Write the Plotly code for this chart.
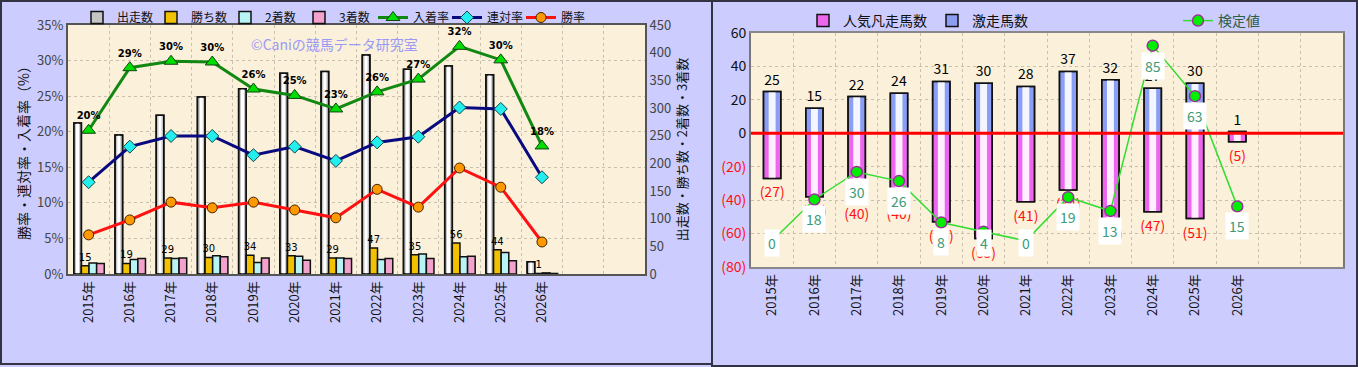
import plotly.graph_objects as go

W, H = 1358, 367
FONT = "Noto Sans CJK JP"

# ---------------- data (left chart) ----------------
years = ["2015年", "2016年", "2017年", "2018年", "2019年", "2020年",
         "2021年", "2022年", "2023年", "2024年", "2025年", "2026年"]
starts = [273, 251, 287, 320, 335, 363, 366, 396, 370, 376, 360, 22]
wins = [15, 19, 29, 30, 34, 33, 29, 47, 35, 56, 44, 1]
seconds = [20, 26, 28, 33, 21, 32, 29, 26, 36, 31, 39, 2]
thirds = [19, 28, 29, 31, 29, 25, 28, 28, 28, 32, 24, 1]
place_rate = [20.2, 29.0, 29.9, 29.8, 26.0, 25.1, 23.2, 25.6, 27.4, 32.0, 30.1, 18.0]
quinella_rate = [12.9, 17.9, 19.4, 19.4, 16.7, 17.9, 15.9, 18.5, 19.3, 23.4, 23.2, 13.6]
win_rate = [5.5, 7.6, 10.1, 9.3, 10.1, 9.0, 7.9, 11.9, 9.4, 14.9, 12.2, 4.5]

# ---------------- data (right chart) ----------------
gekiso = [25, 15, 22, 24, 31, 30, 28, 37, 32, 27, 30, 1]
ninki_bonsou = [27, 38, 40, 40, 53, 63, 41, 34, 52, 47, 51, 5]
kentei = [0, 18, 30, 26, 8, 4, 0, 19, 13, 85, 63, 15]

xs = list(range(len(years)))
ninki_neg = [-v for v in ninki_bonsou]
ninki_text = [f"({v})" for v in ninki_bonsou]

# secondary (hidden) axis range for 検定値
K_RANGE = [-11.4, 90.5]
R_TOP, R_BOT = 33.0, 267.0  # right plot area pixel rows


def px(x):
    return x / W


def py(y):
    return 1 - y / H


fig = go.Figure()


def gradient_bar(x, y, width, offset, base, light, name, xaxis, yaxis,
                 legend="legend", showlegend=True, text=None, textfont=None,
                 lw=1.5):
    fig.add_trace(go.Bar(x=x, y=y, width=width, offset=offset, name=name,
                         marker=dict(color=base, line=dict(width=lw, color="#111")),
                         xaxis=xaxis, yaxis=yaxis, legend=legend,
                         showlegend=showlegend, hoverinfo="skip"))
    fig.add_trace(go.Bar(x=x, y=y, width=width * 0.4, offset=offset + width * 0.3,
                         marker=dict(color=light, line=dict(width=0)),
                         xaxis=xaxis, yaxis=yaxis, showlegend=False,
                         hoverinfo="skip"))
    fig.add_trace(go.Bar(x=x, y=y, width=width, offset=offset,
                         marker=dict(color="rgba(0,0,0,0)",
                                     line=dict(width=lw, color="#111")),
                         text=text, textposition="outside" if text else "none",
                         textfont=textfont, constraintext="none", cliponaxis=False,
                         xaxis=xaxis, yaxis=yaxis, showlegend=False,
                         hoverinfo="skip"))


# ---------- left chart bars ----------
bw = 0.185
gradient_bar(xs, starts, bw, -0.36, "#C4C4C4", "#FFFFFF", "出走数", "x", "y")
fig.add_trace(go.Bar(x=xs, y=wins, width=bw, offset=-0.175, name="勝ち数",
                     marker=dict(color="#F2C200", line=dict(width=1.5, color="#111")),
                     text=wins, textposition="outside", constraintext="none",
                     cliponaxis=False,
                     textfont=dict(size=10, color="#000", family="DejaVu Sans"),
                     xaxis="x", yaxis="y", hoverinfo="skip"))
fig.add_trace(go.Bar(x=xs, y=seconds, width=bw, offset=0.01, name="2着数",
                     marker=dict(color="#B8F4F4", line=dict(width=1.5, color="#111")),
                     xaxis="x", yaxis="y", hoverinfo="skip"))
fig.add_trace(go.Bar(x=xs, y=thirds, width=bw, offset=0.195, name="3着数",
                     marker=dict(color="#F2A2CC", line=dict(width=1.5, color="#111")),
                     xaxis="x", yaxis="y", hoverinfo="skip"))

# ---------- left chart lines ----------
fig.add_trace(go.Scatter(x=xs, y=place_rate, name="入着率", mode="lines+markers+text",
                         line=dict(color="#118811", width=3),
                         marker=dict(symbol="triangle-up", size=12, color="#00DD00",
                                     line=dict(color="#114411", width=1)),
                         texttemplate="<b>%{y:.0f}%</b>", textposition="top center",
                         textfont=dict(size=10, color="#000", family="DejaVu Sans"),
                         cliponaxis=False, xaxis="x", yaxis="y2", hoverinfo="skip"))
fig.add_trace(go.Scatter(x=xs, y=quinella_rate, name="連対率", mode="lines+markers",
                         line=dict(color="#0A0A80", width=3),
                         marker=dict(symbol="diamond", size=10, color="#22EEEE",
                                     line=dict(color="#114444", width=1)),
                         xaxis="x", yaxis="y2", hoverinfo="skip"))
fig.add_trace(go.Scatter(x=xs, y=win_rate, name="勝率", mode="lines+markers",
                         line=dict(color="#FF1111", width=3),
                         marker=dict(symbol="circle", size=10, color="#FF9900",
                                     line=dict(color="#442200", width=1)),
                         xaxis="x", yaxis="y2", hoverinfo="skip"))

# ---------- right chart bars ----------
rb = 0.41
gradient_bar(xs, ninki_neg, rb, -rb / 2, "#EE66EE", "#FFEEFF", "人気凡走馬数",
             "x2", "y3", legend="legend2", text=ninki_text,
             textfont=dict(size=14, color="#FF1111", family=FONT))
gradient_bar(xs, gekiso, rb, -rb / 2, "#8C9EF4", "#F4F6FF", "激走馬数",
             "x2", "y3", legend="legend2", text=gekiso,
             textfont=dict(size=14, color="#000", family=FONT))

fig.add_trace(go.Scatter(x=xs, y=kentei, name="検定値", mode="lines+markers",
                         line=dict(color="#33DD33", width=1.5),
                         marker=dict(size=11, color="#00EE00",
                                     line=dict(color="#993399", width=1.5)),
                         xaxis="x2", yaxis="y4", legend="legend3",
                         cliponaxis=False, hoverinfo="skip"))

annotations = []
kpx = (R_BOT - R_TOP) / (K_RANGE[1] - K_RANGE[0])
for i, v in enumerate(kentei):
    marker_row = R_TOP + (K_RANGE[1] - v) * kpx
    label_row = min(marker_row + 20, 243)
    annotations.append(dict(x=xs[i], y=v, xref="x2", yref="y4", text=str(v),
                            showarrow=False, yshift=-(label_row - marker_row),
                            bgcolor="white", borderpad=3,
                            font=dict(size=14, color="#3A9A78", family=FONT)))
annotations.append(dict(x=px(334), y=py(44), xref="paper", yref="paper",
                        xanchor="center", yanchor="middle",
                        text="©Caniの競馬データ研究室", showarrow=False,
                        font=dict(size=14, color="#9A9AF4", family=FONT)))

grid = "#C9C1B0"
common_x = dict(range=[-0.5, 13.5], tickvals=xs, ticktext=years, tickangle=-90,
                showgrid=False, ticks="", zeroline=False, automargin=False,
                minor=dict(tick0=0.5, dtick=1, showgrid=True, gridcolor=grid,
                           griddash="dot", gridwidth=1),
                showline=True, mirror=True, linewidth=2,
                tickfont=dict(size=13, color="#111", family=FONT))

legend_common = dict(orientation="h", xanchor="left", yanchor="top",
                     bgcolor="rgba(0,0,0,0)", itemwidth=30, traceorder="normal")

fig.update_layout(
    width=W, height=H, autosize=False,
    margin=dict(l=0, r=0, t=0, b=0, pad=0, autoexpand=False),
    paper_bgcolor="#CCCCFF", plot_bgcolor="#FBF0DA",
    font=dict(family=FONT, color="#111"),
    barmode="group",
    xaxis=dict(domain=[px(68), px(645)], anchor="y", linecolor="#555", **common_x),
    yaxis=dict(domain=[py(274), py(25)], anchor="x", side="right", range=[0, 450],
               dtick=50, showgrid=False, zeroline=False, showline=True,
               linecolor="#555", linewidth=2, ticks="", automargin=False,
               tickfont=dict(size=13, color="#444"),
               title=dict(text="出走数・勝ち数・2着数・3着数", standoff=8,
                          font=dict(size=13, color="#111"))),
    yaxis2=dict(overlaying="y", side="left", range=[0, 35], dtick=5,
                ticksuffix="%", showgrid=True, gridcolor=grid, griddash="dot",
                zeroline=False, showline=True, linecolor="#555", linewidth=2,
                ticks="", automargin=False, tickfont=dict(size=13, color="#444"),
                title=dict(text="勝率・連対率・入着率（%）", standoff=4,
                           font=dict(size=14, color="#111"))),
    xaxis2=dict(domain=[px(751), px(1343)], anchor="y3", linecolor="#888", **common_x),
    yaxis3=dict(domain=[py(R_BOT), py(R_TOP)], anchor="x2", range=[-80, 60],
                tickvals=[-80, -60, -40, -20, 0, 20, 40, 60],
                ticktext=["<span style='color:#FF1111'>(80)</span>",
                          "<span style='color:#FF1111'>(60)</span>",
                          "<span style='color:#FF1111'>(40)</span>",
                          "<span style='color:#FF1111'>(20)</span>",
                          "0", "20", "40", "60"],
                showgrid=True, gridcolor=grid, griddash="dot", zeroline=False,
                showline=True, mirror=True, linecolor="#777", linewidth=2,
                ticks="", automargin=False, tickfont=dict(size=14, color="#111")),
    yaxis4=dict(overlaying="y3", range=K_RANGE, visible=False, automargin=False),
    legend=dict(x=px(77), y=py(3), font=dict(size=12, color="#111"),
                entrywidth=29, entrywidthmode="pixels", **legend_common),
    legend2=dict(x=px(803), y=py(5), font=dict(size=14, color="#111"),
                 **legend_common),
    legend3=dict(x=px(1178), y=py(5), font=dict(size=14, color="#2E5E46"),
                 **legend_common),
    annotations=annotations,
    shapes=[
        dict(type="line", xref="x2 domain", x0=0, x1=1, yref="y3", y0=0, y1=0,
             line=dict(color="#FF0000", width=3), layer="above"),
        dict(type="rect", xref="paper", yref="paper", x0=px(1), x1=px(712),
             y0=py(364), y1=py(1), line=dict(color="#333344", width=2)),
        dict(type="rect", xref="paper", yref="paper", x0=px(712), x1=px(1357),
             y0=py(366), y1=py(1), line=dict(color="#333344", width=2)),
    ],
)

fig.write_html("out.html",
               config={"displayModeBar": False},
               post_script="document.body.style.margin='0px';"
                           "document.body.style.padding='0px';")
